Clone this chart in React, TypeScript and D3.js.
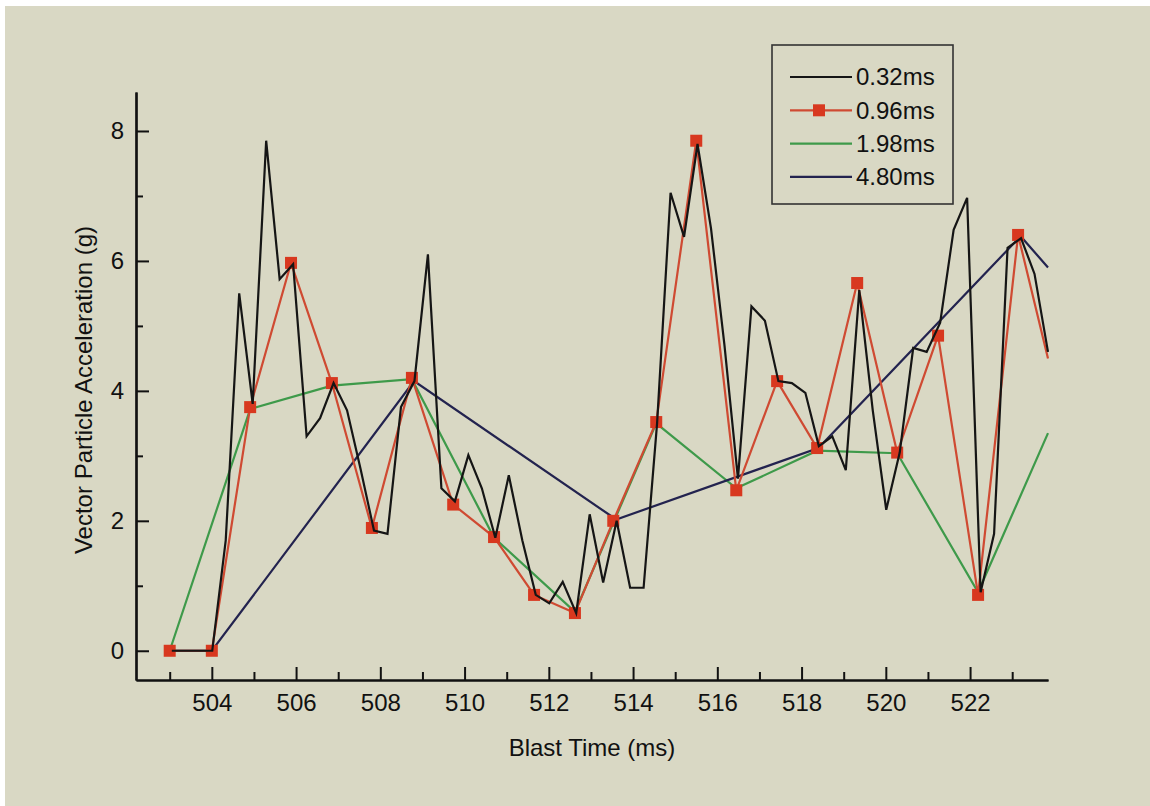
import React, { useEffect, useRef } from 'react';
import * as d3 from 'd3';

// 0.32ms sampling (black)
const t032 = [503.05, 503.37, 503.69, 504.01, 504.33, 504.65, 504.97, 505.29, 505.61, 505.93, 506.25, 506.57, 506.89, 507.21, 507.53, 507.85, 508.17, 508.49, 508.81, 509.13, 509.45, 509.77, 510.09, 510.41, 510.73, 511.05, 511.37, 511.69, 512.01, 512.33, 512.65, 512.97, 513.29, 513.61, 513.93, 514.25, 514.57, 514.89, 515.21, 515.53, 515.85, 516.17, 516.49, 516.81, 517.13, 517.45, 517.77, 518.09, 518.41, 518.73, 519.05, 519.37, 519.69, 520.01, 520.33, 520.65, 520.97, 521.29, 521.61, 521.93, 522.25, 522.57, 522.89, 523.21, 523.53, 523.85];
const v032 = [0, 0, 0, 0, 1.7, 5.5, 3.8, 7.85, 5.72, 5.95, 3.3, 3.58, 4.12, 3.7, 2.8, 1.85, 1.8, 3.75, 4.15, 6.1, 2.5, 2.3, 3.01, 2.5, 1.74, 2.7, 1.7, 0.86, 0.73, 1.06, 0.58, 2.1, 1.05, 2.0, 0.97, 0.97, 3.5, 7.05, 6.37, 7.8, 6.5, 4.7, 2.65, 5.3, 5.08, 4.15, 4.12, 3.97, 3.15, 3.3, 2.78, 5.55, 3.7, 2.17, 3.05, 4.66, 4.6, 5.05, 6.48, 6.97, 0.9, 1.8, 6.2, 6.35, 5.8, 4.6];

// 0.96ms sampling (red with squares)
const t096 = [503.0, 504.0, 504.91, 505.88, 506.85, 507.8, 508.75, 509.73, 510.7, 511.65, 512.62, 513.53, 514.55, 515.5, 516.45, 517.42, 518.37, 519.32, 520.27, 521.24, 522.19, 523.14, 523.85];
const v096 = [0, 0, 3.75, 5.97, 4.12, 1.89, 4.2, 2.25, 1.75, 0.86, 0.58, 2.0, 3.52, 7.85, 2.47, 4.15, 3.12, 5.66, 3.05, 4.85, 0.86, 6.4, 4.5];

// 1.98ms sampling (green)
const t198 = [503.0, 504.91, 506.85, 508.75, 510.7, 512.62, 514.55, 516.45, 518.37, 520.27, 522.19, 523.85];
const v198 = [0, 3.72, 4.08, 4.18, 1.74, 0.6, 3.5, 2.5, 3.08, 3.04, 0.9, 3.35];

// 4.80ms sampling (navy)
const t480 = [503.0, 504.0, 508.8, 513.6, 518.4, 523.2, 523.85];
const v480 = [0, 0, 4.15, 2.02, 3.12, 6.38, 5.9];

const seriesNames = ['0.32ms', '0.96ms', '1.98ms', '4.80ms'];
const seriesColors = ['#151515', '#cf4a32', '#3e9a4a', '#23234f'];
const xMajorTicks = [504, 506, 508, 510, 512, 514, 516, 518, 520, 522];
const xMinorTicks = [503, 505, 507, 509, 511, 513, 515, 517, 519, 521, 523];
const yMajorTicks = [0, 2, 4, 6, 8];
const yMinorTicks = [1, 3, 5, 7];

const W = 1150;
const H = 806;
const FONT = 'Liberation Sans, Arial, sans-serif';

const App = () => {
  const ref = useRef<SVGSVGElement>(null);

  useEffect(() => {
    const svg = d3.select(ref.current);
    svg.selectAll('*').remove();

    svg.append('rect').attr('width', W).attr('height', H).attr('fill', '#ffffff');
    svg.append('rect').attr('x', 5).attr('y', 6).attr('width', W - 5).attr('height', H - 6).attr('fill', '#d9d8c4');

    const x = d3.scaleLinear().domain([502.2, 523.85]).range([136, 1048]);
    const y = d3.scaleLinear().domain([-0.45, 8.6]).range([680, 92]);

    const series = [
      { t: t032, v: v032 },
      { t: t096, v: v096 },
      { t: t198, v: v198 },
      { t: t480, v: v480 },
    ];

    const line = d3
      .line<[number, number]>()
      .x((d) => x(d[0]))
      .y((d) => y(d[1]));

    // draw order: green, navy, red, black on top-ish
    const order = [2, 3, 1, 0];
    order.forEach((i) => {
      const pts = series[i].t.map((t, k) => [t, series[i].v[k]] as [number, number]);
      svg
        .append('path')
        .datum(pts)
        .attr('fill', 'none')
        .attr('stroke', seriesColors[i])
        .attr('stroke-width', i === 0 ? 2.2 : 2.2)
        .attr('stroke-linejoin', 'miter')
        .attr('d', line);
      if (i === 1) {
        svg
          .append('g')
          .selectAll('rect')
          .data(pts.slice(0, pts.length - 1))
          .enter()
          .append('rect')
          .attr('x', (d) => x(d[0]) - 6)
          .attr('y', (d) => y(d[1]) - 6)
          .attr('width', 12)
          .attr('height', 12)
          .attr('fill', '#d8381f');
      }
    });

    // axes
    const gy = svg.append('g').attr('transform', `translate(${x.range()[0]},0)`);
    gy.call(d3.axisLeft(y).tickValues(yMajorTicks).tickSize(-13).tickSizeOuter(0).tickPadding(12).tickFormat(d3.format('d')));
    gy.append('g').call(d3.axisLeft(y).tickValues(yMinorTicks).tickSize(-7).tickSizeOuter(0).tickFormat(() => ''));

    const gx = svg.append('g').attr('transform', `translate(0,${y.range()[0]})`);
    gx.call(d3.axisBottom(x).tickValues(xMajorTicks).tickSize(-13).tickSizeOuter(0).tickPadding(14).tickFormat(d3.format('d')));
    gx.append('g').call(d3.axisBottom(x).tickValues(xMinorTicks).tickSize(-8).tickSizeOuter(0).tickFormat(() => ''));

    svg.selectAll('.domain').attr('stroke', '#111').attr('stroke-width', 2.2);
    svg.selectAll('.tick line').attr('stroke', '#111').attr('stroke-width', 2);
    svg
      .selectAll('.tick text')
      .attr('font-family', FONT)
      .attr('font-size', 24)
      .attr('fill', '#111');

    // axis titles
    svg
      .append('text')
      .attr('x', (x.range()[0] + x.range()[1]) / 2)
      .attr('y', 756)
      .attr('text-anchor', 'middle')
      .attr('font-family', FONT)
      .attr('font-size', 24)
      .attr('fill', '#111')
      .text('Blast Time (ms)');
    svg
      .append('text')
      .attr('transform', 'translate(92,390) rotate(-90)')
      .attr('text-anchor', 'middle')
      .attr('font-family', FONT)
      .attr('font-size', 24)
      .attr('fill', '#111')
      .text('Vector Particle Acceleration (g)');

    // legend
    const lg = svg.append('g');
    lg.append('rect')
      .attr('x', 772)
      .attr('y', 45)
      .attr('width', 181)
      .attr('height', 159)
      .attr('fill', 'none')
      .attr('stroke', '#333')
      .attr('stroke-width', 1.6);
    seriesNames.forEach((name, i) => {
      const ry = 77 + i * 33.3;
      lg.append('line')
        .attr('x1', 790)
        .attr('x2', 852)
        .attr('y1', ry)
        .attr('y2', ry)
        .attr('stroke', seriesColors[i])
        .attr('stroke-width', 2.2);
      if (i === 1) {
        lg.append('rect').attr('x', 813).attr('y', ry - 6).attr('width', 12).attr('height', 12).attr('fill', '#d8381f');
      }
      lg.append('text')
        .attr('x', 856)
        .attr('y', ry)
        .attr('dy', '0.35em')
        .attr('font-family', FONT)
        .attr('font-size', 24)
        .attr('fill', '#111')
        .text(name);
    });
  }, []);

  return <svg ref={ref} width={W} height={H} style={{ position: 'absolute', left: 0, top: 0 }} />;
};

export default App;
